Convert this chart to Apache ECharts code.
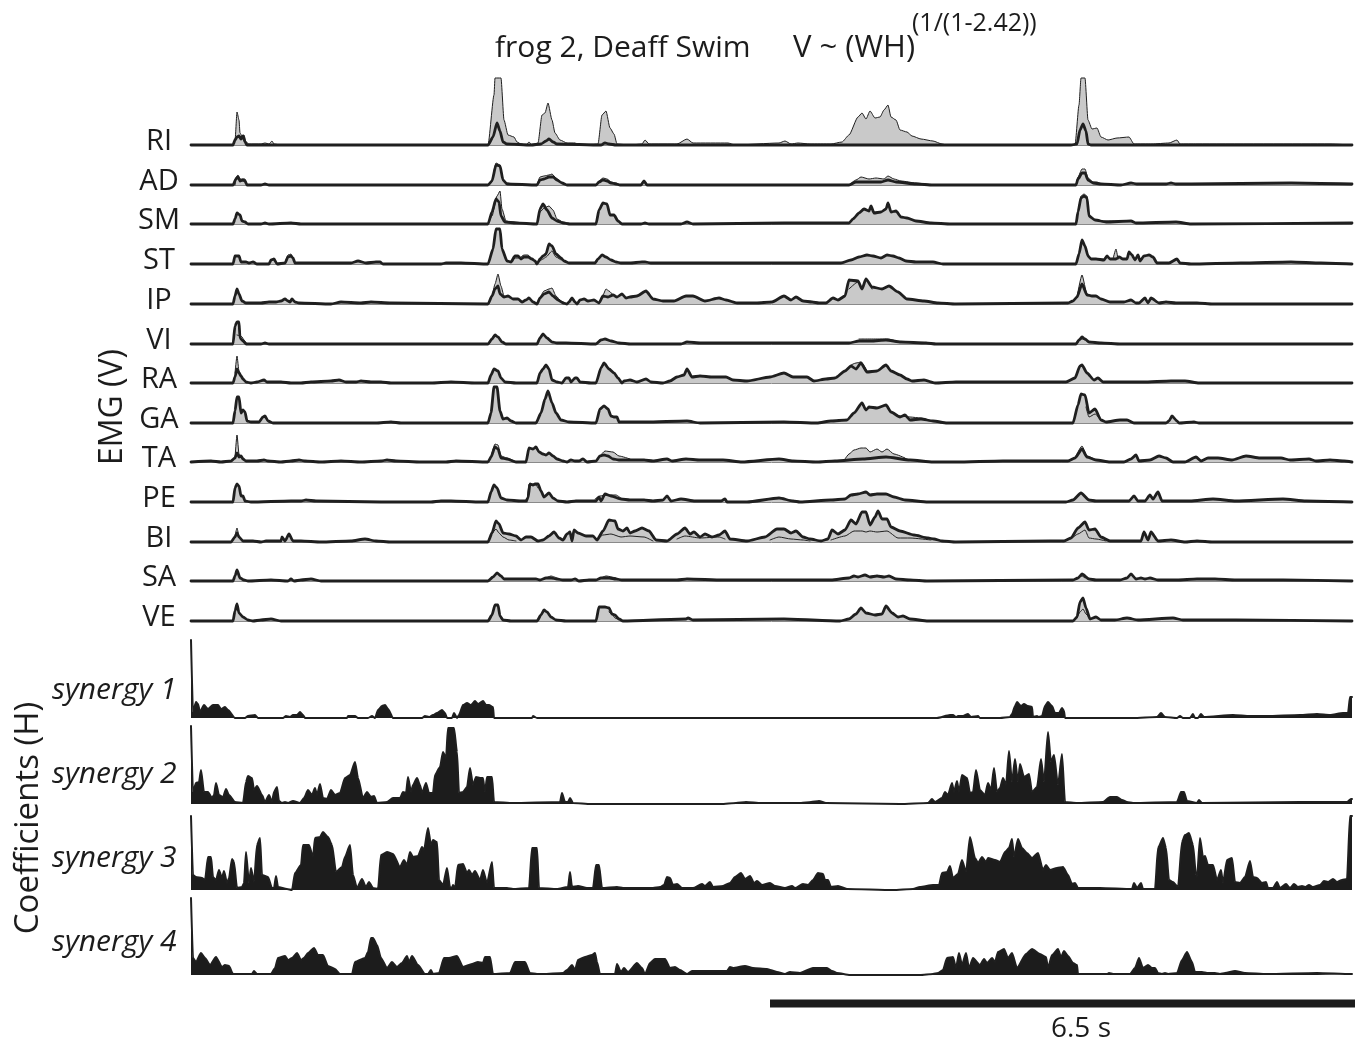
<!DOCTYPE html>
<html><head><meta charset="utf-8">
<style>html,body{margin:0;padding:0;background:#fff}#c{width:1361px;height:1042px}</style>
<script src="https://cdn.jsdelivr.net/npm/echarts@6/dist/echarts.min.js"></script>
</head><body><div id="c"></div>
<script>
// Samples run at 90 per second. Flat lists: sample, value, sample, value...
const muscles = ['RI','AD','SM','ST','IP','VI','RA','GA','TA','PE','BI','SA','VE'];
const synergies = ['synergy 1','synergy 2','synergy 3','synergy 4'];
const scaleBarSamples = [579,1164];
const scaleBarLabel = '6.5 s';

const emgRI_thin = [0,0,42,0,44,4,46,33,48,25,49,12,51,9,53,10,55,3,58,1,70,1,74,2,78,1,81,4,83,1,90,0,297,0,303,50,304,67,310,67,313,25,317,10,323,8,326,3,330,1,335,0,338,3,341,0,347,2,351,30,354,32,357,42,361,25,364,12,369,5,376,2,384,2,387,0,407,1,411,30,415,34,419,17,423,11,426,1,439,0,451,1,454,5,458,1,486,1,496,6,502,2,537,2,544,0,588,2,594,4,600,1,607,2,619,1,640,1,651,3,658,10,667,28,671,32,675,26,679,34,684,27,689,28,693,35,697,40,700,28,705,25,709,15,716,13,721,9,730,6,742,4,751,1,756,0,884,0,888,40,890,67,894,67,897,25,901,16,906,17,910,8,917,5,926,7,938,8,943,1,961,1,978,2,986,5,989,1,1006,1,1139,1,1161,0];
const emgRI_thick = [0,0,42,0,44,5,46,8,48,9,50,6,52,9,54,3,56,0,297,0,302,8,306,22,309,14,312,3,316,1,340,0,350,1,355,4,358,6,362,3,366,1,410,0,414,2,418,1,425,0,880,0,886,1,889,15,892,21,895,14,897,1,900,0,1161,0];
const emgAD_thin = [44,0,45,8,47,10,49,6,52,6,54,6,56,0,70,null,297,0,301,5,305,22,309,20,312,5,316,2,325,0,330,null,346,0,349,8,353,9,358,10,361,11,365,7,370,3,376,0,380,null,405,0,408,4,412,7,416,6,420,3,425,2,429,0,440,null,658,0,665,5,670,8,678,6,685,7,693,6,697,9,703,6,710,4,725,2,742,0,750,null,885,0,887,8,891,16,894,16,897,7,902,3,906,3,910,1,930,0];
const emgAD_thick = [0,0,42,0,45,6,47,8,49,4,52,5,54,4,56,0,70,0,74,1,78,0,297,0,301,4,305,20,309,19,312,5,316,1,346,0,349,5,353,6,358,8,362,8,366,5,371,2,376,0,405,0,408,3,412,5,416,4,420,2,425,1,429,0,450,0,453,4,456,0,658,0,665,3,675,3,690,3,697,5,705,3,725,1,742,0,885,0,887,6,891,12,894,12,897,5,902,2,910,1,930,0,940,2,946,1,975,1,980,2,985,1,1000,1,1100,2,1161,1];
const emgSM_thin = [297,0,301,8,306,28,309,33,311,15,315,3,320,2,335,1,340,null,346,0,349,12,353,16,358,18,362,14,366,5,372,2,378,1,382,null,885,0,887,12,890,28,893,30,896,28,898,8,904,4,915,3,940,3,945,1];
const emgSM_thick = [0,0,42,0,44,5,46,11,49,9,51,3,54,2,57,0,70,0,74,1,78,0,100,1,110,0,297,0,301,12,305,25,308,22,310,8,314,2,325,1,346,0,349,15,352,20,356,14,361,6,366,3,372,1,378,0,405,0,408,14,412,21,416,20,419,9,423,9,427,3,431,0,450,0,454,1,458,0,490,0,496,2,502,0,593,1,658,1,662,5,668,11,673,15,678,13,680,18,683,11,690,12,695,15,697,21,700,12,705,13,710,7,716,6,725,3,740,1,760,0,885,0,887,12,890,26,893,28,896,26,898,8,904,4,915,2,940,3,945,1,985,2,1000,0,1161,1];
const emgST_thin = [94,1,97,9,100,10,102,6,104,1,110,null,320,2,324,6,328,6,333,9,337,9,341,5,345,1,347,null,349,3,352,5,355,7,361,13,365,7,370,4,375,null,888,10,891,22,893,null,922,5,925,15,927,5];
const emgST_thick = [0,0,42,0,44,8,48,8,50,2,55,2,58,1,62,2,66,0,78,0,80,4,83,5,86,0,94,1,97,7,100,8,102,6,104,1,160,1,167,3,175,1,185,2,189,2,192,0,250,0,255,1,260,1,270,1,297,0,302,15,305,35,309,35,311,15,316,3,320,2,324,8,327,8,330,5,333,7,337,7,341,5,344,3,346,0,349,5,352,8,355,10,358,20,361,18,365,10,370,6,373,3,378,1,400,1,404,1,407,5,411,9,415,7,420,4,425,2,430,1,439,1,451,2,454,2,460,1,500,1,593,1,650,1,660,4,668,7,676,9,682,8,690,6,696,9,702,8,708,6,715,3,725,2,742,2,752,0,885,0,888,10,891,24,894,18,897,8,900,5,905,5,913,4,916,8,919,5,925,5,928,7,932,5,936,5,938,12,941,9,944,4,947,9,949,3,953,8,958,9,962,7,966,1,978,1,986,5,989,1,1000,0,1050,1,1100,2,1130,1,1161,0];
const emgIP_thin = [297,0,301,8,304,20,307,30,310,18,313,8,316,7,346,null,349,6,353,13,358,15,361,16,365,8,370,3,374,1,378,null,408,1,412,9,415,15,418,13,422,9,658,null,658,15,667,22,671,15,675,25,681,15,690,null,886,7,891,29,896,10,901,8];
const emgIP_thick = [0,0,42,0,44,8,46,15,48,10,51,3,55,1,70,1,78,2,85,2,90,3,94,5,97,3,99,2,101,5,104,2,108,1,140,0,150,2,170,1,180,2,200,1,297,0,301,8,304,15,307,18,309,10,313,7,317,8,322,5,327,5,331,2,335,4,338,6,342,2,346,0,349,6,353,10,358,12,362,8,367,4,372,1,376,0,378,2,381,6,384,2,386,0,389,4,393,5,397,3,403,4,408,1,412,8,417,7,422,9,426,7,431,10,435,6,439,7,446,8,455,13,462,5,472,3,483,3,495,8,502,8,514,3,528,6,535,4,546,1,565,1,581,2,593,8,600,4,605,7,612,3,621,2,628,1,635,1,642,6,647,4,654,8,658,24,667,23,671,15,675,25,681,17,691,15,698,18,707,12,716,5,733,3,747,1,765,0,877,1,882,3,886,7,891,20,896,9,901,8,905,8,910,5,919,2,933,2,940,4,945,1,948,1,954,6,957,1,960,6,968,1,975,2,985,1,1006,1,1022,0,1161,0];
const emgVI_thin = [46,9,50,8,54,3,56,0,60,null,668,5,675,5,690,5,697,5,705,3,710,null,888,3,891,5,894,4];
const emgVI_thick = [0,0,42,0,44,18,46,22,48,22,49,6,52,3,55,0,70,0,74,1,78,0,297,0,301,5,304,9,307,7,311,2,315,0,346,0,349,6,352,10,356,6,361,2,366,1,375,1,405,0,410,4,414,5,420,3,428,1,440,0,490,0,496,2,510,1,658,1,668,3,680,3,695,4,710,2,735,1,745,0,885,0,888,4,891,7,894,5,898,2,910,1,930,0,1161,0];
const emgRA_thin = [44,10,46,27,48,12,50,7,55,null,660,18,665,20,670,21,676,12,685,null,889,17,891,18];
const emgRA_thick = [0,0,42,0,44,6,46,14,48,10,50,7,52,4,55,1,60,0,66,1,73,3,76,1,90,1,100,0,110,0,120,1,140,2,148,3,155,1,165,1,170,2,180,1,190,1,200,0,240,0,260,1,285,0,297,0,300,8,303,14,307,12,310,5,314,1,325,0,346,0,349,10,352,14,355,18,358,14,361,3,366,1,371,0,375,5,378,5,380,1,384,5,386,5,389,1,400,0,405,0,410,15,413,20,418,14,423,10,427,5,431,0,433,2,439,3,446,1,455,4,460,1,472,0,479,2,486,6,493,8,496,14,501,6,509,7,521,6,535,6,542,3,556,2,579,6,593,10,602,6,616,6,623,2,635,4,644,5,654,12,660,17,665,14,670,20,676,11,686,12,695,18,700,12,709,8,716,4,721,2,733,3,744,0,765,1,812,1,859,1,875,1,884,5,889,17,891,18,896,10,903,3,907,5,912,1,952,1,980,2,994,2,1008,0,1161,0];
const emgGA_thin = [700,11,709,7,719,6,730,5,742,2,750,0,760,null,895,16,898,6,904,9,910,3];
const emgGA_thick = [0,0,42,0,44,12,46,26,48,26,50,10,52,13,54,11,56,2,60,1,68,1,72,6,74,7,77,2,82,0,185,0,200,1,210,0,297,0,300,10,303,36,306,36,309,12,312,4,316,5,320,2,325,0,345,0,350,10,354,24,357,32,361,20,365,10,370,3,378,1,405,0,409,14,413,17,417,14,420,7,423,6,426,6,428,1,439,1,455,1,496,2,509,0,593,1,626,0,640,2,656,3,663,10,671,20,675,13,678,16,686,15,695,18,700,11,709,6,714,8,719,3,730,4,742,2,756,0,882,0,887,18,890,29,894,28,898,10,904,14,910,3,915,1,929,3,936,3,943,0,975,0,978,2,981,7,986,2,988,0,1003,1,1008,0,1161,0];
const emgTA_thin = [44,4,46,27,48,8,50,6,55,null,300,5,304,18,307,17,310,6,316,4,325,0,330,null,409,6,414,11,422,10,428,6,439,3,445,null,654,3,658,8,663,12,670,14,675,14,679,10,686,13,691,10,696,13,703,8,714,4,720,null,884,4,891,16,896,6,905,2];
const emgTA_thick = [0,0,20,1,30,0,40,1,44,4,46,9,48,5,50,6,52,3,55,1,66,1,73,2,77,1,90,0,100,1,108,2,114,1,130,0,150,1,170,0,190,1,196,2,205,1,230,0,255,0,265,1,297,0,300,5,304,15,307,13,310,4,316,3,325,0,335,0,338,14,342,13,345,15,348,10,352,8,355,7,358,9,362,6,366,3,372,1,376,0,380,2,384,1,388,1,392,3,396,0,405,1,409,6,413,7,417,6,422,3,428,2,433,2,439,2,453,2,462,1,476,3,481,1,495,3,509,2,532,2,551,0,588,3,602,1,626,0,644,1,672,3,695,5,719,2,742,0,765,0,812,1,877,1,884,4,891,13,896,5,905,2,919,0,933,0,940,3,945,7,948,1,959,2,968,6,975,4,982,0,994,0,1005,5,1010,1,1017,4,1027,4,1041,2,1055,6,1069,4,1090,4,1099,2,1118,3,1125,1,1139,2,1153,1,1161,0];
const emgPE_thin = [336,0,338,18,341,18,345,17,347,14,350,null,404,3,409,6,415,7,425,7,431,3];
const emgPE_thick = [0,0,42,0,44,14,46,18,48,16,50,6,52,6,54,1,60,0,100,1,110,1,115,2,125,1,190,0,240,0,250,1,260,1,290,0,297,0,300,10,303,17,306,14,310,4,316,2,330,1,335,1,337,4,339,18,342,17,344,18,347,18,350,11,353,5,358,9,362,4,367,1,376,0,385,1,392,1,405,1,408,5,410,1,414,8,420,6,430,3,439,2,453,2,462,1,472,2,476,6,480,1,490,3,504,1,530,1,534,3,536,0,556,0,588,4,602,1,609,0,640,2,654,3,660,7,667,8,675,10,679,7,686,8,695,8,703,5,714,2,737,0,875,0,882,2,890,9,898,2,905,1,924,1,938,1,943,6,947,1,954,1,959,7,962,3,967,10,971,1,999,1,1022,3,1045,1,1092,3,1115,1,1161,0];
const emgBI_thin = [44,6,46,14,48,6,52,1,56,null,301,8,305,13,308,9,312,5,318,2,325,1,330,null,406,2,412,7,420,8,430,5,439,6,453,5,462,1,470,null,486,3,494,6,509,4,528,5,534,3,540,null,579,2,588,5,600,3,612,2,619,1,625,null,640,2,654,6,663,11,671,11,675,10,679,11,686,10,696,11,707,4,719,4,740,2,750,null,880,3,887,8,894,12,898,4,905,3,915,1];
const emgBI_thick = [0,0,40,0,44,5,46,9,48,5,52,1,62,1,70,0,75,1,85,1,90,1,91,5,94,1,98,8,102,1,110,1,130,0,160,1,174,3,185,1,200,0,297,0,301,9,305,21,308,18,312,9,318,8,325,6,330,2,335,5,340,5,347,1,352,2,358,6,363,10,368,4,372,2,376,8,379,10,381,1,383,12,387,9,395,6,402,6,406,2,412,11,418,22,424,21,427,13,432,11,436,14,439,9,444,11,451,14,458,11,465,2,476,1,486,8,494,14,499,8,503,10,509,5,514,8,521,5,528,7,534,11,539,3,556,1,574,5,586,13,593,13,600,9,605,11,612,5,619,3,630,1,637,3,641,12,647,8,654,12,660,22,665,18,671,30,675,30,679,17,684,25,687,31,691,23,696,23,700,15,709,11,723,7,737,4,743,3,751,1,765,0,859,1,873,1,880,4,887,14,894,20,898,12,904,13,910,5,919,1,950,1,953,10,957,2,960,10,967,1,980,2,994,0,1006,1,1022,0,1161,0];
const emgSA_thin = [355,3,360,5,366,3,370,null,410,3,415,5,425,3,431,null,887,3,891,5,894,3];
const emgSA_thick = [0,0,42,0,44,5,46,11,49,3,53,1,57,0,80,1,97,0,100,2,103,0,110,1,120,2,130,0,297,0,302,4,306,8,310,5,313,2,330,2,345,2,349,1,355,3,360,3,366,2,372,1,380,1,384,2,388,0,398,1,405,1,410,3,418,3,425,2,431,1,486,1,496,2,532,1,588,1,640,1,658,3,663,5,667,4,674,6,679,4,686,5,693,4,698,5,705,2,719,1,737,0,882,1,887,3,891,7,898,2,905,1,929,1,936,3,940,7,945,2,950,3,954,2,959,3,967,1,986,1,1006,2,1024,2,1045,1,1092,1,1161,0];
const emgVE_thin = [418,9,421,7,424,3,428,1,432,null,886,3,889,9,892,12,895,7,899,2];
const emgVE_thick = [0,0,42,0,44,10,46,17,48,8,52,4,57,1,62,0,70,1,80,2,90,0,297,0,301,6,304,16,307,16,309,5,312,1,320,0,346,0,350,6,353,11,356,9,360,4,365,1,375,0,405,0,408,14,412,14,414,14,418,13,421,7,424,6,428,2,432,0,495,2,497,3,502,1,593,2,649,0,658,2,665,7,670,13,675,8,684,6,691,7,695,15,701,8,707,4,712,5,719,2,737,0,882,0,886,4,889,19,892,23,895,13,899,2,905,4,910,1,924,1,936,3,947,1,982,3,992,1,1045,1,1161,0];

const synergy1 = [0,78,2,6,5,16,7,14,9,6,13,13,17,9,22,13,27,13,30,9,34,11,37,8,44,0,54,0,57,2,64,3,67,0,92,0,95,2,99,1,102,3,106,3,109,6,112,3,114,0,156,0,157,2,164,2,167,0,177,0,181,2,184,0,187,8,191,12,194,13,197,9,202,0,231,0,234,2,238,1,242,3,246,5,251,8,254,5,256,0,261,0,263,5,266,0,268,3,272,13,276,15,280,13,284,17,287,14,292,17,295,13,298,13,302,11,303,0,341,0,342,2,346,0,746,0,759,3,762,3,765,1,767,2,772,2,777,4,780,1,787,2,789,0,809,0,819,1,821,4,824,12,826,16,830,12,833,14,837,12,841,11,842,1,846,2,848,1,851,2,854,12,857,16,861,12,864,5,868,5,871,10,873,7,874,0,942,0,966,1,970,5,974,1,986,0,989,2,992,0,999,0,1002,4,1004,0,1007,0,1010,4,1013,1,1042,3,1059,2,1076,2,1109,3,1126,4,1139,3,1152,5,1157,5,1159,21,1161,21];
const synergy2 = [0,78,2,12,5,21,8,22,10,34,13,12,17,12,21,6,23,9,25,21,28,9,32,7,35,15,38,9,44,2,52,1,55,22,57,28,61,26,63,14,66,18,71,9,74,2,78,9,81,2,83,12,86,17,88,3,91,1,94,2,97,1,102,3,109,1,113,6,117,14,121,9,124,16,126,9,129,20,132,6,136,5,140,14,144,9,149,11,154,26,159,29,164,42,167,26,172,6,176,12,180,7,183,8,186,1,196,2,202,6,209,6,212,12,215,11,217,27,220,12,222,19,226,26,229,19,231,11,235,21,238,11,242,11,244,29,249,37,252,52,255,46,257,76,263,76,266,52,268,11,272,12,276,17,279,36,282,19,285,27,289,26,292,26,294,12,296,27,301,27,303,2,322,1,369,2,371,11,374,2,377,2,379,6,382,1,400,0,530,0,545,1,555,2,570,1,610,1,620,2,628,3,635,1,709,0,737,1,741,5,744,2,751,6,754,12,757,9,761,21,763,12,766,23,768,12,771,29,776,26,779,11,782,12,785,34,789,14,794,9,797,21,800,14,803,36,806,12,809,16,812,26,815,19,818,53,821,22,824,45,827,22,829,40,833,27,838,30,841,12,846,17,850,45,853,22,857,72,860,42,863,49,867,19,871,50,874,2,886,1,912,2,919,7,926,7,931,4,936,2,942,1,986,2,990,12,993,12,996,3,1006,1,1008,4,1011,1,1109,2,1156,2,1160,5,1161,5];
const synergy3 = [0,74,2,15,5,13,11,12,14,10,17,33,20,33,22,13,25,10,28,20,31,12,33,19,36,7,38,12,41,31,43,28,46,2,51,3,53,7,55,38,58,7,60,22,63,8,66,45,69,52,71,15,77,13,81,2,83,2,85,14,87,3,96,1,101,0,104,17,110,25,112,45,118,45,122,33,124,52,129,53,132,58,137,53,141,45,145,18,151,23,154,33,159,45,162,15,166,2,171,11,175,3,178,8,182,2,187,1,190,35,196,38,202,36,209,23,213,30,216,25,219,38,222,33,227,34,231,43,233,40,237,62,240,45,242,50,246,48,248,10,252,5,256,22,259,3,261,2,262,5,264,2,267,25,272,26,276,17,278,20,281,15,284,19,289,10,292,20,296,7,301,28,303,2,316,2,322,1,338,2,341,42,346,42,348,2,366,1,377,3,379,18,381,3,387,4,396,2,402,2,405,25,408,25,411,2,426,3,432,2,462,2,469,3,473,5,476,13,479,12,482,5,486,6,491,2,502,2,511,6,514,4,519,8,522,3,532,4,539,7,544,13,550,17,554,11,559,14,563,7,566,9,571,5,579,7,584,4,594,2,601,4,604,2,612,6,617,5,622,10,627,17,632,16,634,10,637,10,640,3,647,4,656,1,702,0,722,1,729,3,742,5,748,5,751,17,756,18,759,24,762,12,767,16,771,30,775,18,779,53,784,32,787,27,791,33,795,28,797,32,804,30,809,28,814,38,818,42,821,51,823,33,827,51,831,42,836,37,841,32,847,37,852,20,855,25,859,20,866,22,872,23,877,15,881,6,884,7,887,2,909,2,941,1,943,7,946,2,950,7,952,1,964,1,967,42,972,52,975,42,978,10,982,8,987,3,991,48,994,55,998,57,1002,45,1005,15,1006,13,1009,52,1012,33,1014,34,1017,25,1022,25,1026,10,1030,20,1032,7,1036,30,1041,32,1044,8,1049,7,1054,13,1059,29,1062,13,1066,12,1071,7,1075,8,1077,2,1082,2,1086,8,1089,2,1095,6,1099,2,1103,6,1107,3,1111,4,1114,3,1118,5,1122,3,1129,5,1133,9,1137,8,1142,11,1146,8,1151,10,1156,11,1159,74,1161,74];
const synergy4 = [0,77,2,17,5,13,10,22,14,17,19,10,25,18,31,8,34,10,38,9,42,1,61,1,63,4,66,1,80,1,84,7,87,17,94,19,97,15,101,17,106,22,110,15,113,17,117,22,123,27,127,20,132,20,137,9,144,6,149,1,161,1,164,13,174,17,177,23,180,37,182,37,186,30,190,17,196,7,201,13,206,8,211,12,216,19,218,13,221,19,227,10,234,1,237,1,240,5,242,1,248,2,253,17,258,17,266,19,272,8,281,11,287,13,292,12,294,18,299,18,302,1,319,2,324,13,334,13,339,2,346,1,352,1,372,2,376,5,381,10,384,5,387,15,394,18,401,20,404,22,406,13,409,1,424,1,426,11,430,3,433,7,437,3,446,12,451,7,454,1,459,12,464,16,474,16,479,7,484,8,489,5,496,1,501,4,536,4,539,8,542,7,554,9,562,7,576,6,586,3,594,1,599,3,609,2,622,7,636,7,641,4,646,2,659,0,729,0,742,1,747,2,752,5,756,17,762,18,765,7,768,22,771,10,775,22,778,7,782,17,789,10,793,16,796,12,801,17,804,13,807,23,813,26,817,17,821,22,826,7,835,21,841,26,849,21,855,18,857,7,861,20,867,26,870,18,873,24,877,19,882,12,886,10,887,1,916,1,918,2,922,1,939,1,944,7,948,17,952,7,957,10,961,7,964,7,967,2,971,1,974,2,977,1,986,2,991,15,996,23,1001,13,1004,3,1011,3,1016,2,1024,2,1029,1,1034,2,1044,4,1054,2,1076,1,1126,2,1160,1,1161,1];

const emgThin = [emgRI_thin,emgAD_thin,emgSM_thin,emgST_thin,emgIP_thin,emgVI_thin,emgRA_thin,emgGA_thin,emgTA_thin,emgPE_thin,emgBI_thin,emgSA_thin,emgVE_thin];
const emgThick = [emgRI_thick,emgAD_thick,emgSM_thick,emgST_thick,emgIP_thick,emgVI_thick,emgRA_thick,emgGA_thick,emgTA_thick,emgPE_thick,emgBI_thick,emgSA_thick,emgVE_thick];
const synergyData = [synergy1,synergy2,synergy3,synergy4];

const pairs = f => { const o=[]; for(let i=0;i<f.length;i+=2) o.push([f[i],f[i+1]]); return o; };

// layout
const LEFT=191, WIDTH=1161, XMAX=1161;
const emgBase=[145,185,224,264,304,344,383,423,462,502,542,581,621];
const EMG_H=67;
const synBase=[718,804,890,975], synTop=[640,726,816,898];
const FONT='"Open Sans", "Noto Sans", sans-serif';
const DARK='#1f1f1f', GREY='#c9c9c9';

const grid=[], xAxis=[], yAxis=[], series=[], graphic=[];
function addGrid(top,height,ymax,xmax,width,showBase){
  const i=grid.length;
  grid.push({left:LEFT,top,width:width,height,containLabel:false});
  xAxis.push({type:'value',gridIndex:i,min:0,max:xmax,show:showBase,splitLine:{show:false},axisTick:{show:false},axisLabel:{show:false},
    axisLine:{show:showBase,onZero:false,lineStyle:{color:'#8a8a8a',width:1}}});
  yAxis.push({type:'value',gridIndex:i,min:0,max:ymax,show:false,splitLine:{show:false}});
  return i;
}
const line=(i,data,w,area,z)=>({type:'line',xAxisIndex:i,yAxisIndex:i,data,symbol:'none',silent:true,animation:false,z,clip:false,
  smooth:0.2,smoothMonotone:'x',
  lineStyle:{color:DARK,width:w,join:'round',cap:'round'},areaStyle:area?{color:GREY,opacity:1,origin:'start'}:undefined,connectNulls:false});

muscles.forEach((m,k)=>{
  const i=addGrid(emgBase[k]-EMG_H,EMG_H,EMG_H,XMAX,WIDTH,true);
  const thin=pairs(emgThin[k]), thick=pairs(emgThick[k]);
  series.push(line(i,thin,0,true,2));
  series.push(line(i,thick,0,true,2));
  series.push(line(i,thin,1,false,3));
  series.push(line(i,thick,2.8,false,4));
  graphic.push({type:'text',x:159,y:emgBase[k]-3,style:{text:m,font:'29px '+FONT,fill:'#1c1c1c',align:'center',verticalAlign:'middle'}});
});
synergies.forEach((s,k)=>{
  const h=synBase[k]-synTop[k];
  const i=addGrid(synTop[k],h,h,XMAX,WIDTH,false);
  const s2=line(i,pairs(synergyData[k]),2,true,3);
  s2.areaStyle={color:'#1c1c1c',opacity:1,origin:'start'};
  series.push(s2);
  graphic.push({type:'text',x:52,y:[690,774,858,942][k],style:{text:s,font:'italic 30px '+FONT,fill:'#1c1c1c',align:'left',verticalAlign:'middle'}});
});
// scale bar
const b=addGrid(1003,1,1,scaleBarSamples[1],scaleBarSamples[1],false);
const bar=line(b,[[scaleBarSamples[0],0.5],[scaleBarSamples[1],0.5]],8,false,4);
bar.smooth=false; bar.lineStyle.cap='butt'; bar.lineStyle.color='#1c1c1c';
series.push(bar);

graphic.push({type:'text',x:1081,y:1029,style:{text:scaleBarLabel,font:'28px '+FONT,fill:'#1c1c1c',align:'center',verticalAlign:'middle'}});
graphic.push({type:'text',x:495,y:48,style:{text:'frog 2, Deaff Swim',font:'30px '+FONT,fill:'#1c1c1c',align:'left',verticalAlign:'middle'}});
graphic.push({type:'text',x:793,y:48,style:{text:'V ~ (WH)',font:'31px '+FONT,fill:'#1c1c1c',align:'left',verticalAlign:'middle'}});
graphic.push({type:'text',x:912,y:24,style:{text:'(1/(1-2.42))',font:'25px '+FONT,fill:'#1c1c1c',align:'left',verticalAlign:'middle'}});
graphic.push({type:'text',x:113,y:407,rotation:Math.PI/2,style:{text:'EMG (V)',font:'32px '+FONT,fill:'#1c1c1c',align:'center',verticalAlign:'middle'}});
graphic.push({type:'text',x:29,y:818,rotation:Math.PI/2,style:{text:'Coefficients (H)',font:'33px '+FONT,fill:'#1c1c1c',align:'center',verticalAlign:'middle'}});

const chart=echarts.init(document.getElementById('c'),null,{renderer:'canvas'});
chart.setOption({animation:false,backgroundColor:'#fff',grid,xAxis,yAxis,series,graphic:{elements:graphic},tooltip:{show:false}});
</script></body></html>
